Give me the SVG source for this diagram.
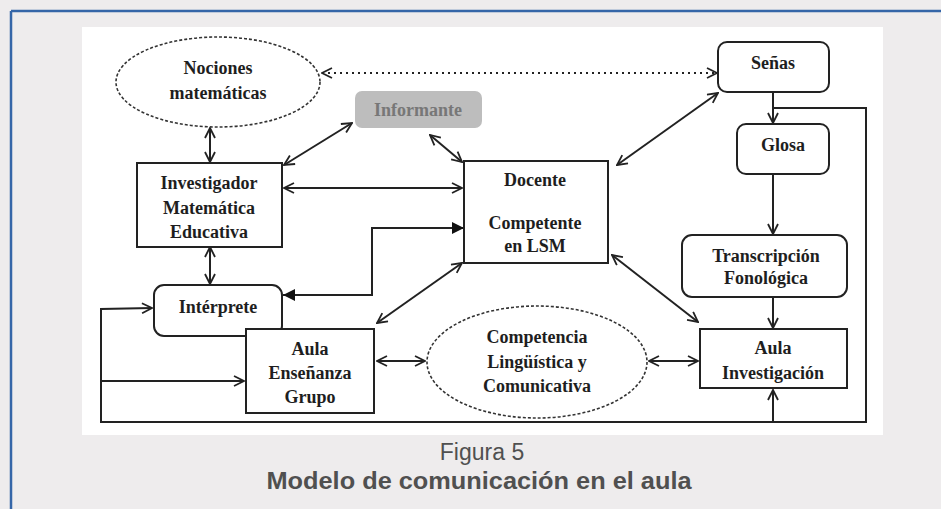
<svg xmlns="http://www.w3.org/2000/svg" width="941" height="509" viewBox="0 0 941 509">
<style>
.box{fill:#fff;stroke:#222;stroke-width:2}
.ell{fill:#fff;stroke:#333;stroke-width:1.6;stroke-dasharray:3 2}
.t{font-family:"Liberation Serif","Times New Roman",serif;font-size:18px;font-weight:bold;fill:#1e1e1e;text-anchor:middle}
.c{fill:none;stroke:#222;stroke-width:2}
.cap{font-family:"Liberation Sans",Arial,sans-serif;fill:#505050;text-anchor:middle}
</style>
<defs>
<marker id="a" viewBox="0 0 12 12" refX="11" refY="6" markerWidth="12" markerHeight="12" markerUnits="userSpaceOnUse" orient="auto-start-reverse">
<path d="M1,1 L11,6 L1,11" fill="none" stroke="#222" stroke-width="1.8"/>
</marker>
<marker id="f" viewBox="0 0 12 12" refX="12" refY="6" markerWidth="12" markerHeight="12" markerUnits="userSpaceOnUse" orient="auto-start-reverse">
<path d="M0,0 L12,6 L0,12 z" fill="#111"/>
</marker>
</defs>
<rect x="0" y="0" width="941" height="509" fill="#eeeced"/>
<path d="M11,11 H941 M11,11 V509" fill="none" stroke="#3566a8" stroke-width="2.5"/>
<rect x="82" y="27" width="801" height="408" fill="#fff"/>

<g id="connectors">
<line class="c" x1="322" y1="73" x2="717" y2="73" stroke-dasharray="2 4" marker-start="url(#a)" marker-end="url(#a)"/>
<line class="c" x1="210" y1="128" x2="210" y2="162" marker-start="url(#a)" marker-end="url(#a)"/>
<line class="c" x1="210" y1="247" x2="210" y2="284" marker-start="url(#a)" marker-end="url(#a)"/>
<line class="c" x1="284" y1="165" x2="352" y2="123" marker-start="url(#a)" marker-end="url(#a)"/>
<line class="c" x1="284" y1="188" x2="462" y2="188" marker-start="url(#a)" marker-end="url(#a)"/>
<line class="c" x1="430" y1="135" x2="462" y2="162" marker-start="url(#a)" marker-end="url(#a)"/>
<line class="c" x1="617" y1="165" x2="718" y2="93" marker-start="url(#a)" marker-end="url(#a)"/>
<line class="c" x1="773" y1="92" x2="773" y2="123" marker-end="url(#a)"/>
<line class="c" x1="773" y1="174" x2="773" y2="234" marker-end="url(#a)"/>
<line class="c" x1="773" y1="297" x2="773" y2="328" marker-end="url(#a)"/>
<polyline class="c" points="773,108 866,108 866,422 101,422 101,309 152,308" marker-end="url(#a)"/>
<line class="c" x1="101" y1="381" x2="244" y2="381" marker-end="url(#a)"/>
<line class="c" x1="773" y1="422" x2="773" y2="390" marker-end="url(#a)"/>
<polyline class="c" points="464,228 372,228 372,295 283,295" marker-start="url(#f)" marker-end="url(#f)"/>
<line class="c" x1="462" y1="263" x2="377" y2="323" marker-start="url(#a)" marker-end="url(#a)"/>
<line class="c" x1="377" y1="361" x2="425" y2="361" marker-start="url(#a)" marker-end="url(#a)"/>
<line class="c" x1="649" y1="361" x2="698" y2="361" marker-start="url(#a)" marker-end="url(#a)"/>
<line class="c" x1="612" y1="255" x2="698" y2="322" marker-start="url(#a)" marker-end="url(#a)"/>
</g>

<g id="nociones">
<ellipse class="ell" cx="218" cy="82" rx="102" ry="45"/>
<text class="t" x="218" y="74">Nociones</text>
<text class="t" x="218" y="99">matemáticas</text>
</g>
<g id="informante">
<rect x="355" y="91" width="127" height="37" rx="7" fill="#bdbdbd"/>
<text class="t" x="418" y="116" style="fill:#777">Informante</text>
</g>
<g id="investigador">
<rect class="box" x="137" y="163" width="145" height="84"/>
<text class="t" x="209" y="189">Investigador</text>
<text class="t" x="209" y="214">Matemática</text>
<text class="t" x="209" y="238">Educativa</text>
</g>
<g id="docente">
<rect class="box" x="464" y="161" width="144" height="102"/>
<text class="t" x="535" y="186">Docente</text>
<text class="t" x="535" y="229">Competente</text>
<text class="t" x="535" y="252">en LSM</text>
</g>
<g id="interprete">
<rect class="box" x="154" y="285" width="128" height="51" rx="10"/>
<text class="t" x="218" y="313">Intérprete</text>
</g>
<g id="aula-ensenanza">
<rect class="box" x="246" y="329" width="128" height="84"/>
<text class="t" x="310" y="355">Aula</text>
<text class="t" x="310" y="379">Enseñanza</text>
<text class="t" x="310" y="403">Grupo</text>
</g>
<g id="competencia">
<ellipse class="ell" cx="537" cy="362" rx="110" ry="56"/>
<text class="t" x="537" y="343">Competencia</text>
<text class="t" x="537" y="368">Lingüística y</text>
<text class="t" x="537" y="392">Comunicativa</text>
</g>
<g id="senas">
<rect class="box" x="718" y="42" width="111" height="50" rx="9"/>
<text class="t" x="773" y="69">Señas</text>
</g>
<g id="glosa">
<rect class="box" x="737" y="124" width="92" height="50" rx="9"/>
<text class="t" x="783" y="151">Glosa</text>
</g>
<g id="transcripcion">
<rect class="box" x="682" y="235" width="165" height="62" rx="10"/>
<text class="t" x="766" y="262">Transcripción</text>
<text class="t" x="766" y="284">Fonológica</text>
</g>
<g id="aula-investigacion">
<rect class="box" x="700" y="329" width="147" height="59"/>
<text class="t" x="773" y="354">Aula</text>
<text class="t" x="773" y="379">Investigación</text>
</g>

<text class="cap" x="482" y="460" font-size="23">Figura 5</text>
<text class="cap" x="479" y="489" font-size="24" font-weight="bold" textLength="425" lengthAdjust="spacingAndGlyphs">Modelo de comunicación en el aula</text>
</svg>
